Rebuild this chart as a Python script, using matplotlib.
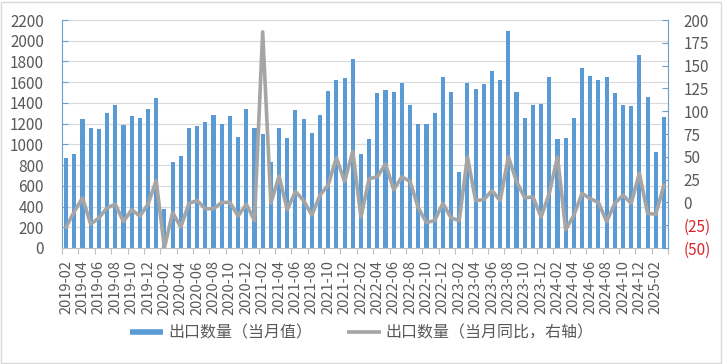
import numpy as np
import pandas as pd
import matplotlib.pyplot as plt
from matplotlib.lines import Line2D
from matplotlib.patches import Rectangle

plt.rcParams['font.family'] = ['Noto Sans CJK SC', 'DejaVu Sans']

# Monthly categories 2019-02 .. 2025-03
months = pd.period_range('2019-02', '2025-03', freq='M').strftime('%Y-%m').tolist()

# 出口数量（当月值）
export_qty = [870, 905, 1240, 1160, 1150, 1305, 1380, 1190, 1275, 1255, 1345, 1450,
              380, 830, 890, 1160, 1180, 1220, 1285, 1200, 1275, 1070, 1345, 1160,
              1100, 830, 1160, 1060, 1335, 1240, 1110, 1285, 1515, 1620, 1640, 1820,
              905, 1050, 1495, 1525, 1505, 1595, 1380, 1200, 1200, 1300, 1650, 1505,
              735, 1595, 1535, 1585, 1710, 1620, 2095, 1505, 1255, 1380, 1390, 1650,
              1050, 1060, 1255, 1735, 1660, 1620, 1650, 1495, 1380, 1370, 1860, 1460,
              925, 1265]

# 出口数量（当月同比，右轴）, %
export_yoy = [-27, -10, 5, -24, -17, -6, -2, -21, -8, -15, -2, 24,
              -50, -11, -27, -1, 2, -7, -7, 0, 0, -15, -2, -20,
              187, -1, 29, -8, 12, 2, -14, 8, 19, 49, 23, 56,
              -16, 26, 28, 42, 14, 28, 23, -6, -22, -20, -1, -17,
              -20, 50, 2, 3, 13, 2, 50, 23, 5, 6, -16, 10,
              50, -30, -14, 10, 4, 0, -21, -1, 8, -1, 32, -12,
              -13, 19]

left_ticks = list(range(0, 2201, 200))
right_ticks = list(range(-50, 201, 25))

bar_color = '#5B9BD5'
line_color = '#A5A5A5'
text_color = '#595959'
axis_blue = '#6A9FCF'
neg_red = '#D9262A'

fig = plt.figure(figsize=(7.23, 3.64), dpi=100)
ax = fig.add_axes([0.0858, 0.3187, 0.8382, 0.6263])

x = np.arange(len(months))
ax.bar(x, export_qty, width=0.5, color=bar_color, zorder=2)
ax.set_xlim(-0.5, len(months) - 0.5)
ax.set_ylim(0, 2200)
ax.set_yticks(left_ticks)
ax.yaxis.grid(True, color='#D9D9D9', lw=0.8)
ax.set_axisbelow(True)

ax.set_xticks(x[::2])
ax.set_xticklabels(months[::2], rotation=90)
ax.set_xticks(np.arange(-0.5, len(months), 2), minor=True)
ax.tick_params(axis='x', which='major', length=0, pad=9, labelsize=10.5, labelcolor=text_color)
ax.tick_params(axis='x', which='minor', length=4.3, width=0.8, color='#BFBFBF', direction='out')
ax.tick_params(axis='y', direction='in', length=4, color=axis_blue, pad=13,
               labelsize=11, labelcolor=text_color)

for s in ['top', 'right']:
    ax.spines[s].set_visible(False)
ax.spines['left'].set_color(axis_blue)
ax.spines['bottom'].set_color('#BFBFBF')

# right axis: year-on-year
ax2 = ax.twinx()
ax2.plot(x, export_yoy, color=line_color, lw=2.6, zorder=3)
ax2.set_ylim(-50, 200)
ax2.set_yticks(right_ticks)
ax2.set_yticklabels([f'({abs(t)})' if t < 0 else str(t) for t in right_ticks])
for lbl, t in zip(ax2.get_yticklabels(), right_ticks):
    lbl.set_color(neg_red if t < 0 else text_color)
ax2.tick_params(axis='y', direction='in', length=4, color=axis_blue, pad=11, labelsize=11)
for s in ['top', 'left', 'bottom']:
    ax2.spines[s].set_visible(False)
ax2.spines['right'].set_color(axis_blue)

handles = [Line2D([], [], color=bar_color, lw=4, solid_capstyle='butt'),
           Line2D([], [], color=line_color, lw=2.6, solid_capstyle='butt')]
labels = ['出口数量（当月值）', '出口数量（当月同比，右轴）']
fig.legend(handles, labels, loc='center', bbox_to_anchor=(0.5, 0.085), ncol=2,
           frameon=False, fontsize=11.5, handlelength=2.1, handletextpad=0.3,
           columnspacing=2.2, labelcolor=text_color)

# outer chart border
fig.add_artist(Rectangle((0.002, 0.004), 0.995, 0.99, transform=fig.transFigure,
                         fill=False, ec='#D9D9D9', lw=1))

fig.savefig('out.png', dpi=100)
